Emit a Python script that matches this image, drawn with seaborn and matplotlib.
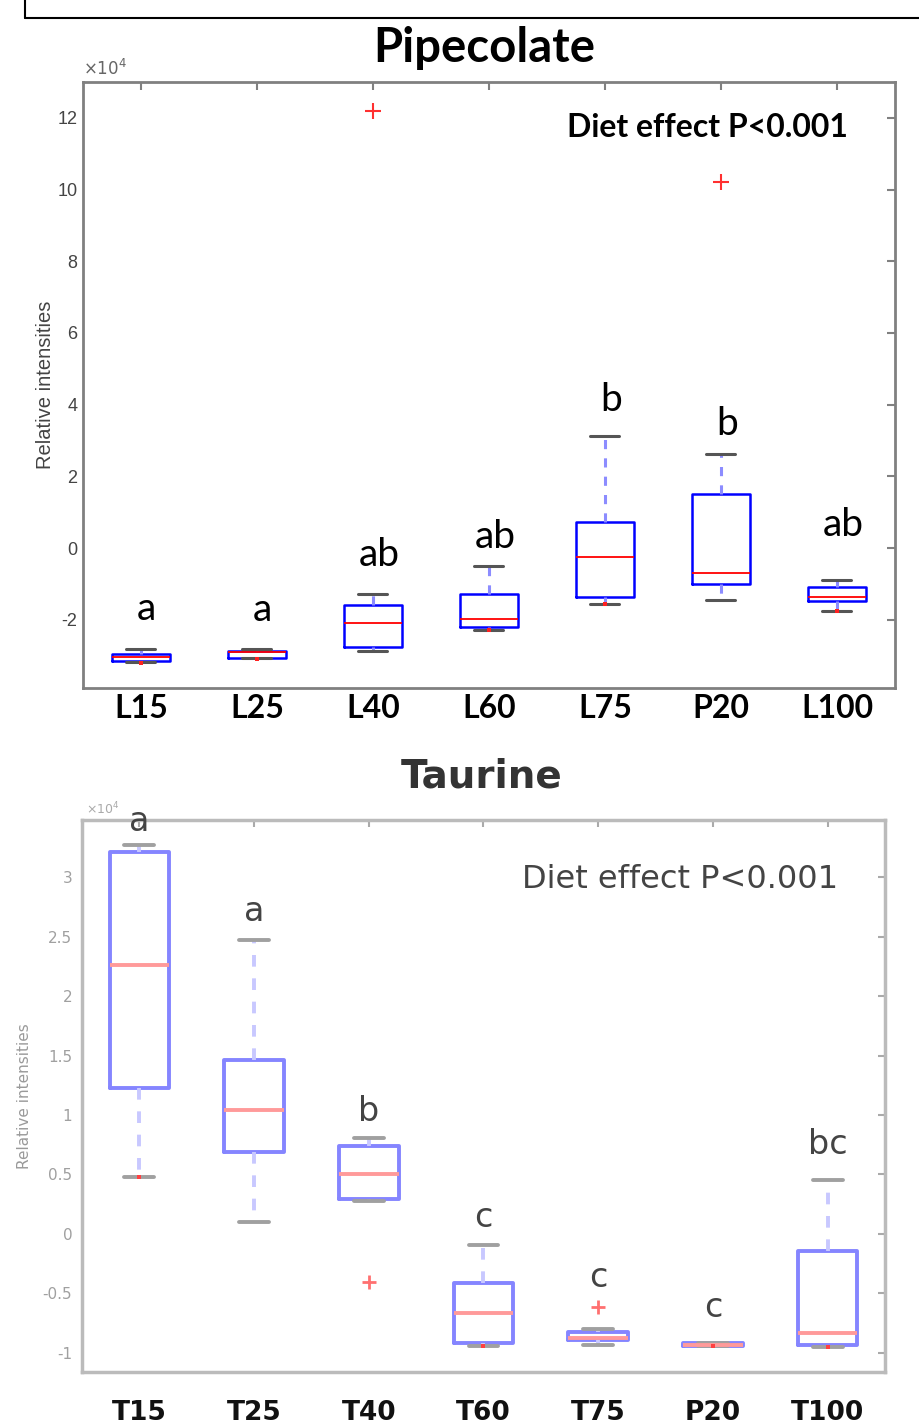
import numpy as np
import pandas as pd
import matplotlib
matplotlib.use("Agg")
import matplotlib.pyplot as plt
import seaborn as sns
from matplotlib.lines import Line2D

# ---- Pipecolate (x 1e4) ----
pip_groups = ['L15', 'L25', 'L40', 'L60', 'L75', 'P20', 'L100']
pip_lw = [-3.18, -3.07, -2.87, -2.28, -1.57, -1.44, -1.76]
pip_q1 = [-3.16, -3.05, -2.75, -2.19, -1.36, -0.99, -1.48]
pip_med = [-3.03, -2.91, -2.09, -1.98, -0.26, -0.69, -1.35]
pip_q3 = [-2.94, -2.86, -1.59, -1.29, 0.72, 1.50, -1.07]
pip_uw = [-2.81, -2.82, -1.29, -0.50, 3.12, 2.62, -0.90]
pip_hi_out = [None, None, 12.2, None, None, 10.22, None]
pip_letters = ['a', 'a', 'ab', 'ab', 'b', 'b', 'ab']
pip_letter_y = [-1.70, -1.73, -0.19, 0.31, 4.12, 3.45, 0.64]
pip_dot_groups = ['L15', 'L25', 'L60', 'L75', 'L100']
pip_dot_vals = [-3.20, -3.10, -2.28, -1.57, -1.76]

# ---- Taurine (x 1e4) ----
tau_groups = ['T15', 'T25', 'T40', 'T60', 'T75', 'P20', 'T100']
tau_lw = [0.48, 0.10, 0.28, -0.94, -0.935, -0.945, -0.95]
tau_q1 = [1.23, 0.69, 0.29, -0.92, -0.89, -0.94, -0.93]
tau_med = [2.26, 1.04, 0.505, -0.66, -0.875, -0.93, -0.83]
tau_q3 = [3.21, 1.46, 0.74, -0.41, -0.825, -0.92, -0.14]
tau_uw = [3.27, 2.47, 0.81, -0.09, -0.80, -0.915, 0.45]
tau_lo_out = [None, None, -0.404, None, None, None, None]
tau_hi_out = [None, None, None, None, -0.61, None, None]
tau_letters = ['a', 'a', 'b', 'c', 'c', 'c', 'bc']
tau_letter_y = [3.47, 2.71, 1.03, 0.135, -0.37, -0.62, 0.75]
tau_dot_groups = ['T15', 'T60', 'P20', 'T100']
tau_dot_vals = [0.48, -0.94, -0.94, -0.95]


def sample_from_stats(lw, q1, med, q3, uw, lo=None, hi=None):
    # 9 points: numpy percentiles land exactly on indices 2, 4, 6
    return [lo if lo is not None else lw, lw, q1, med, med, med, q3, uw,
            hi if hi is not None else uw]


def build_frame(groups, lw, q1, med, q3, uw, lo_out, hi_out):
    rows = []
    for i, g in enumerate(groups):
        vals = sample_from_stats(lw[i], q1[i], med[i], q3[i], uw[i],
                                 lo_out[i], hi_out[i])
        rows += [(g, v) for v in vals]
    return pd.DataFrame(rows, columns=['group', 'value'])


pip_df = build_frame(pip_groups, pip_lw, pip_q1, pip_med, pip_q3, pip_uw,
                     [None] * 7, pip_hi_out)
tau_df = build_frame(tau_groups, tau_lw, tau_q1, tau_med, tau_q3, tau_uw,
                     tau_lo_out, tau_hi_out)

sns.set_style("white")
plt.rcParams['axes.unicode_minus'] = False

fig = plt.figure(figsize=(9.2, 14.25), dpi=100)

# frame fragment at top of the page
fig.add_artist(Line2D([0.027, 1.0], [0.9874, 0.9874], color='black', lw=1.5))
fig.add_artist(Line2D([0.027, 0.027], [0.9874, 1.0], color='black', lw=1.5))

# ================= Pipecolate =================
ax1 = fig.add_axes([0.0902, 0.5172, 0.8826, 0.4253])
sns.boxplot(data=pip_df, x='group', y='value', order=pip_groups, ax=ax1,
            width=0.5, fill=False, linecolor='#0000ff',
            boxprops=dict(color='#0000ff', linewidth=1.8),
            medianprops=dict(color='#ff0000', linewidth=1.3),
            whiskerprops=dict(color='#8c8cff', linewidth=2.2, linestyle=(0, (3, 3))),
            capprops=dict(color='#555555', linewidth=2.2),
            flierprops=dict(marker='+', markeredgecolor='#ff3030', markersize=11,
                            markeredgewidth=1.5))
sns.stripplot(x=pip_dot_groups, y=pip_dot_vals, order=pip_groups, ax=ax1,
              jitter=False, marker='s', size=3, color='#ff2020', linewidth=0)

ax1.set_xlim(-0.5, 6.5)
ax1.set_ylim(-3.9, 13)
ax1.set_yticks([-2, 0, 2, 4, 6, 8, 10, 12])
ax1.set_yticklabels(['-2', '0', '2', '4', '6', '8', '10', '12'],
                    fontsize=13, color='#444444', family='Liberation Sans')
ax1.set_xticks(range(len(pip_groups)))
ax1.set_xticklabels(pip_groups, fontsize=23, fontweight='bold',
                    family='Lato', color='black')
ax1.tick_params(axis='both', direction='in', top=True, right=True,
                length=6, width=1.5, color='#808080')
ax1.tick_params(axis='x', pad=4)
ax1.tick_params(axis='y', pad=4)
ax1.set_xlabel('')
ax1.set_ylabel('Relative intensities', fontsize=14.5, color='#444444',
               family='Liberation Sans', labelpad=2)
for sp in ax1.spines.values():
    sp.set_color('#808080')
    sp.set_linewidth(2)

for i, (lab, y) in enumerate(zip(pip_letters, pip_letter_y)):
    ax1.text(i + 0.05, y, lab, ha='center', va='center', fontsize=28,
             family='Lato', color='black')
ax1.text(0.942, 0.924, 'Diet effect P<0.001', transform=ax1.transAxes,
         ha='right', va='center', fontsize=23, fontweight='bold',
         family='Lato', color='black')
ax1.text(0.0, 1.005, r'$\times10^{4}$', transform=ax1.transAxes,
         ha='left', va='bottom', fontsize=12, color='#666666')
fig.text(0.526, 0.9663, 'Pipecolate', ha='center', va='center', fontsize=34,
         fontweight='bold', family='Lato', color='black')

# ================= Taurine =================
ax2 = fig.add_axes([0.0891, 0.0372, 0.8728, 0.3874])
sns.boxplot(data=tau_df, x='group', y='value', order=tau_groups, ax=ax2,
            width=0.52, fill=False, linecolor='#8080ff',
            boxprops=dict(color='#8585ff', linewidth=2.8),
            medianprops=dict(color='#ff9a9a', linewidth=2.8),
            whiskerprops=dict(color='#c8c8ff', linewidth=2.8, linestyle=(0, (3, 3))),
            capprops=dict(color='#a0a0a0', linewidth=2.8),
            flierprops=dict(marker='+', markeredgecolor='#ff7070', markersize=10,
                            markeredgewidth=2))
sns.stripplot(x=tau_dot_groups, y=tau_dot_vals, order=tau_groups, ax=ax2,
              jitter=False, marker='s', size=3.5, color='#ff4040', linewidth=0)

ax2.set_xlim(-0.5, 6.5)
ax2.set_ylim(-1.16, 3.48)
ax2.set_yticks([-1, -0.5, 0, 0.5, 1, 1.5, 2, 2.5, 3])
ax2.set_yticklabels(['-1', '-0.5', '0', '0.5', '1', '1.5', '2', '2.5', '3'],
                    fontsize=11, color='#a0a0a0')
ax2.set_xticks(range(len(tau_groups)))
ax2.set_xticklabels(tau_groups, fontsize=19, fontweight='bold',
                    family='DejaVu Sans', color='#111111')
ax2.tick_params(axis='both', direction='in', top=True, right=True,
                length=5, width=1.5, color='#aaaaaa')
ax2.tick_params(axis='x', pad=20)
ax2.tick_params(axis='y', pad=7)
ax2.set_xlabel('')
ax2.set_ylabel('Relative intensities', fontsize=11, color='#9a9a9a', labelpad=8)
for sp in ax2.spines.values():
    sp.set_color('#bbbbbb')
    sp.set_linewidth(2.5)

for i, (lab, y) in enumerate(zip(tau_letters, tau_letter_y)):
    ax2.text(i, y, lab, ha='center', va='center', fontsize=24,
             color='#444444')
ax2.text(0.9415, 0.893, 'Diet effect P<0.001', transform=ax2.transAxes,
         ha='right', va='center', fontsize=23, color='#444444')
ax2.text(0.005, 1.005, r'$\times10^{4}$', transform=ax2.transAxes,
         ha='left', va='bottom', fontsize=9, color='#aaaaaa')
fig.text(0.523, 0.4554, 'Taurine', ha='center', va='center', fontsize=28,
         fontweight='bold', color='#333333')

fig.savefig('out.png', dpi=100)
plt.close(fig)
